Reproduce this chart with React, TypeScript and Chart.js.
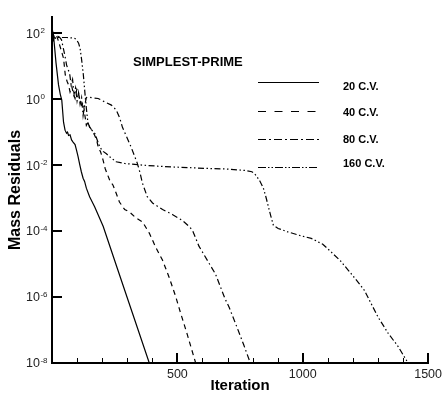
import React, { useEffect, useRef } from 'react';
import { Chart, registerables } from 'chart.js';

Chart.register(...registerables);

const FONT = '"Liberation Sans", Arial, Helvetica, sans-serif';

// ---------- data ----------
const seriesLabels = ['20 C.V.', '40 C.V.', '80 C.V.', '160 C.V.'];

const iters20 = [0, 3, 6, 10, 16, 26, 33, 39, 46, 52, 58, 62, 66, 72, 78, 84, 92, 98, 104, 110, 117, 124, 130, 137, 150, 170, 204, 260, 320, 388];
const resid20 = [79, 56, 85, 40, 12.6, 2.7, 1.4, 0.93, 0.2, 0.115, 0.093, 0.1, 0.079, 0.083, 0.058, 0.05, 0.042, 0.028, 0.018, 0.011, 0.0063, 0.004, 0.0032, 0.002, 1.1e-3, 5.5e-4, 1.4e-4, 7.6e-6, 3.4e-7, 1e-8];

const iters40 = [0, 4, 8, 14, 20, 30, 40, 46, 53, 60, 66, 72, 79, 86, 92, 99, 105, 112, 118, 125, 131, 137, 144, 150, 160, 170, 178, 184, 194, 204, 212, 222, 232, 243, 256, 269, 290, 309, 335, 361, 388, 414, 441, 467, 494, 507, 540, 573];
const resid40 = [79, 50, 83, 71, 79, 45, 25, 17.4, 5.4, 3.5, 2.7, 1.66, 2.4, 1.41, 1.05, 2.0, 1.66, 0.89, 0.66, 0.79, 0.33, 0.16, 0.2, 0.145, 0.112, 0.081, 0.058, 0.036, 0.025, 0.014, 0.0079, 0.005, 0.0032, 0.0025, 0.0014, 7.6e-4, 4.5e-4, 3.8e-4, 2.5e-4, 1.9e-4, 8.7e-5, 3.2e-5, 1.3e-5, 4.0e-6, 1.0e-6, 4.6e-7, 7.1e-8, 1e-8];

const iters80 = [0, 5, 10, 20, 30, 38, 45, 52, 58, 64, 70, 76, 82, 88, 94, 100, 106, 112, 118, 124, 130, 137, 145, 160, 184, 210, 237, 256, 270, 281, 298, 315, 328, 340, 350, 361, 380, 401, 441, 480, 520, 546, 560, 586, 605, 625, 652, 690, 706, 740, 765, 791];
const resid80 = [76, 89, 63, 83, 76, 63, 35, 20, 11, 7.9, 6.3, 2.8, 4.0, 1.41, 2.2, 0.89, 1.58, 0.71, 1.12, 0.32, 0.63, 1.12, 1.17, 1.1, 1.05, 0.83, 0.66, 0.47, 0.27, 0.14, 0.071, 0.036, 0.02, 0.0115, 0.0063, 0.0028, 0.0011, 7.1e-4, 4.5e-4, 3.2e-4, 2.1e-4, 1.4e-4, 1.07e-4, 3.5e-5, 2.0e-5, 1.1e-5, 5.0e-6, 8.9e-7, 5.0e-7, 1.1e-7, 3.5e-8, 1e-8];

const iters160 = [0, 4, 8, 14, 25, 40, 60, 80, 92, 100, 106, 112, 118, 125, 132, 138, 143, 150, 160, 171, 181, 191, 204, 217, 230, 256, 290, 330, 361, 420, 494, 560, 627, 700, 771, 797, 807, 817, 830, 843, 853, 863, 873, 883, 902, 940, 982, 1034, 1080, 1114, 1150, 1181, 1215, 1246, 1273, 1300, 1341, 1380, 1420];
const resid160 = [63, 89, 71, 74, 74, 74, 74, 72, 69, 60, 50, 35, 16, 5.5, 1.35, 0.45, 0.2, 0.14, 0.112, 0.091, 0.056, 0.035, 0.026, 0.022, 0.018, 0.0126, 0.0112, 0.0105, 0.01, 0.0093, 0.0087, 0.0083, 0.0079, 0.0076, 0.0069, 0.0063, 0.0056, 0.0045, 0.0032, 0.002, 0.0011, 5.5e-4, 2.8e-4, 1.5e-4, 1.2e-4, 9.5e-5, 7.6e-5, 6.0e-5, 4.0e-5, 2.3e-5, 1.26e-5, 6.6e-6, 3.2e-6, 1.6e-6, 6.3e-7, 2.5e-7, 7.9e-8, 3.2e-8, 1e-8];

const yTickExponents = [-8, -6, -4, -2, 0, 2];
const xTickLabels = [500, 1000, 1500];
const xMinorStep = 100;
const chartTitle = 'SIMPLEST-PRIME';
const xAxisTitle = 'Iteration';
const yAxisTitle = 'Mass Residuals';

// ---------- styles ----------
const curveDash = [[], [5, 4], [6, 3, 1.5, 3], [6, 2.5, 1.5, 2.5, 1.5, 2.5]];
const legendDash = [[], [8, 8.5], [8, 3, 2, 3], [8, 2, 1.5, 2, 1.5, 2]];
const legendLineY = [82, 111, 139, 167];
const legendTextY = [90, 116, 142.5, 166.5];

const decorPlugin = {
  id: 'decor',
  afterDraw(chart: any) {
    const { ctx, chartArea, scales } = chart;
    const xs = scales.x;
    const ys = scales.y;
    ctx.save();
    ctx.strokeStyle = '#000';
    ctx.setLineDash([]);
    // y ticks (inward)
    ctx.lineWidth = 2;
    yTickExponents.forEach((e) => {
      const py = Math.round(ys.getPixelForValue(Math.pow(10, e)));
      ctx.beginPath();
      ctx.moveTo(chartArea.left, py);
      ctx.lineTo(chartArea.left + 10, py);
      ctx.stroke();
    });
    // x ticks (inward)
    for (let v = xMinorStep; v <= xs.max; v += xMinorStep) {
      const major = xTickLabels.includes(v);
      const px = Math.round(xs.getPixelForValue(v)) + (major ? 0 : 0.5);
      ctx.lineWidth = major ? 2 : 1;
      ctx.beginPath();
      ctx.moveTo(px, chartArea.bottom);
      ctx.lineTo(px, chartArea.bottom - (major ? 10 : 5));
      ctx.stroke();
    }
    // y tick labels with superscripts
    ctx.fillStyle = '#222';
    ctx.textAlign = 'left';
    ctx.textBaseline = 'alphabetic';
    yTickExponents.forEach((e) => {
      const py = ys.getPixelForValue(Math.pow(10, e));
      ctx.font = `12.5px ${FONT}`;
      ctx.fillText('10', 26, py + 4.4);
      const w = ctx.measureText('10').width;
      ctx.font = `8px ${FONT}`;
      ctx.fillText(String(e), 26 + w + 0.5, py - 0.3);
    });
    // title
    ctx.fillStyle = '#000';
    ctx.font = `bold 13px ${FONT}`;
    ctx.fillText(chartTitle, 133, 65.5);
    // legend
    chart.data.datasets.forEach((ds: any, i: number) => {
      ctx.lineWidth = 1;
      ctx.setLineDash(legendDash[i]);
      ctx.beginPath();
      ctx.moveTo(258, legendLineY[i] + 0.5);
      ctx.lineTo(319, legendLineY[i] + 0.5);
      ctx.stroke();
      ctx.setLineDash([]);
      ctx.font = `bold 11px ${FONT}`;
      ctx.fillText(ds.label, 343, legendTextY[i]);
    });
    ctx.restore();
  },
};

const seriesX = [iters20, iters40, iters80, iters160];
const seriesY = [resid20, resid40, resid80, resid160];

export default function App() {
  const ref = useRef<HTMLCanvasElement>(null);
  useEffect(() => {
    document.body.style.margin = '0';
    const datasets = seriesLabels.map((label, i) => ({
      label,
      data: seriesX[i].map((x, j) => ({ x, y: seriesY[i][j] })),
      borderColor: '#000',
      borderWidth: 1.2,
      borderDash: curveDash[i],
      pointRadius: 0,
      fill: false,
      tension: 0,
    }));
    const chart = new Chart(ref.current as HTMLCanvasElement, {
      type: 'line',
      data: { datasets },
      options: {
        responsive: false,
        animation: false,
        events: [],
        layout: { padding: { top: 17, right: 15, left: 0, bottom: 0 } },
        plugins: { legend: { display: false }, tooltip: { enabled: false } },
        scales: {
          x: {
            type: 'linear',
            min: 0,
            max: 1500,
            grid: { display: false, drawTicks: false },
            border: { display: true, color: '#000', width: 2 },
            ticks: {
              stepSize: 500,
              autoSkip: false,
              maxRotation: 0,
              color: '#222',
              padding: 4,
              font: { family: FONT, size: 12.5 },
              callback: (v: any) => (xTickLabels.includes(Number(v)) ? String(v) : ''),
            },
            title: {
              display: true,
              text: xAxisTitle,
              color: '#000',
              font: { family: FONT, size: 15, weight: 'bold' },
              padding: { top: 0, bottom: 0 },
            },
            afterFit: (s: any) => {
              s.height = 32;
            },
          },
          y: {
            type: 'logarithmic',
            min: 1e-8,
            max: 310,
            grid: { display: false, drawTicks: false },
            border: { display: true, color: '#000', width: 2 },
            ticks: { display: false },
            title: {
              display: true,
              text: yAxisTitle,
              color: '#000',
              font: { family: FONT, size: 16, weight: 'bold' },
              padding: { top: 6, bottom: 0 },
            },
            afterFit: (s: any) => {
              s.width = 52;
            },
          },
        },
      } as any,
      plugins: [decorPlugin],
    });
    return () => chart.destroy();
  }, []);
  return (
    <div style={{ width: 446, height: 395, background: '#fff' }}>
      <canvas ref={ref} width={446} height={395} style={{ display: 'block' }} />
    </div>
  );
}
